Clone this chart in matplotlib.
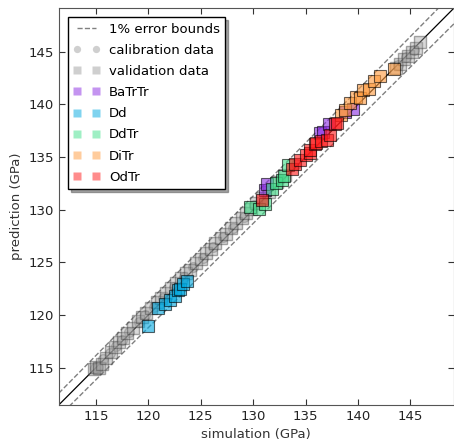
import numpy as np
import matplotlib
matplotlib.use("Agg")
import matplotlib.pyplot as plt


# -----------------------------
# Data (GPa)
# -----------------------------
calib_sim = [114.9, 115.2, 115.7, 116.3, 116.9, 117.5, 118.2, 119.1, 119.7,
             120.5, 121.4, 122.4, 123.4, 124.3, 125.2, 126.2, 127.1, 128.1,
             129.1, 130.1, 131.2, 132.6, 134.1, 143.8, 144.6, 145.3]
calib_pred = [115.0, 115.1, 115.8, 116.4, 117.1, 117.6, 118.4, 119.3, 120.0,
              120.8, 121.6, 122.7, 123.6, 124.6, 125.4, 126.5, 127.4, 128.3,
              129.3, 130.4, 131.5, 132.9, 134.3, 143.7, 144.5, 145.2]

valid_sim = [114.8, 115.0, 115.3, 115.6, 116.0, 116.4, 116.8, 117.2, 117.6,
             118.0, 118.5, 119.0, 119.4, 119.8, 120.3, 120.8, 121.2, 121.7,
             122.2, 122.6, 123.1, 123.6, 124.0, 124.5, 125.0, 125.5, 126.0,
             126.4, 126.9, 127.4, 127.9, 128.4, 128.9, 129.3, 129.8, 130.3,
             130.8, 131.5, 132.3, 133.0, 143.6, 144.0, 144.4, 144.8, 145.1,
             145.5, 145.9]
valid_pred = [114.9, 115.1, 115.0, 115.3, 115.9, 116.5, 117.0, 117.4, 117.8,
              118.3, 118.8, 119.4, 119.8, 120.2, 120.7, 121.2, 121.6, 122.1,
              122.6, 123.0, 123.5, 124.0, 124.3, 124.9, 125.3, 125.9, 126.3,
              126.8, 127.3, 127.7, 128.3, 128.7, 129.2, 129.7, 130.1, 130.6,
              131.1, 131.7, 132.6, 133.3, 143.5, 143.8, 144.3, 144.6, 145.0,
              145.4, 145.9]

batrtr_sim = [131.1, 131.3, 136.4, 136.7, 137.2, 138.8, 139.5]
batrtr_pred = [131.9, 132.4, 137.3, 137.4, 138.1, 139.3, 139.6]

dd_sim = [120.0, 120.9, 121.6, 122.1, 122.5, 122.8, 123.0, 123.3, 123.7]
dd_pred = [119.0, 120.7, 121.0, 121.4, 121.8, 122.4, 122.5, 122.9, 123.2]

ddtr_sim = [129.7, 130.6, 131.1, 131.8, 132.2, 132.7, 132.9, 133.3]
ddtr_pred = [130.3, 130.1, 130.5, 132.0, 132.5, 132.8, 133.2, 134.2]

ditr_sim = [138.4, 138.8, 139.2, 139.8, 140.2, 140.5, 141.0, 141.5, 142.1,
            143.4]
ditr_pred = [139.0, 139.5, 140.1, 140.7, 140.6, 141.4, 141.5, 142.2, 142.7,
             143.4]

odtr_sim = [130.8, 133.7, 134.0, 134.5, 135.0, 135.4, 135.4, 135.9, 136.0,
            136.5, 137.0, 137.3, 137.8, 138.0]
odtr_pred = [130.9, 133.9, 134.3, 134.7, 135.2, 135.4, 135.7, 136.2, 136.3,
             136.5, 136.6, 137.1, 138.1, 138.2]

groups = ["BaTrTr", "Dd", "DdTr", "DiTr", "OdTr"]
group_sim = [batrtr_sim, dd_sim, ddtr_sim, ditr_sim, odtr_sim]
group_pred = [batrtr_pred, dd_pred, ddtr_pred, ditr_pred, odtr_pred]
group_colors = ["#8a2be2", "#00a8e0", "#40e08a", "#ff9a3c", "#ff1a1a"]

lims = (111.45, 149.15)
xticks = [115, 120, 125, 130, 135, 140, 145]

# -----------------------------
# Plot
# -----------------------------
plt.rcParams["font.family"] = "DejaVu Sans"
plt.rcParams["font.size"] = 9.5

fig = plt.figure(figsize=(4.54, 4.44), dpi=100)
ax = fig.add_axes([0.1293, 0.0878, 0.8707, 0.8941])

line = np.array(lims)
ax.plot(line, line, color="black", lw=0.9, zorder=1)
ax.plot(line, line * 1.01, "--", color="gray", lw=1.0, zorder=1,
        label="1% error bounds")
ax.plot(line, line * 0.99, "--", color="gray", lw=1.0, zorder=1)

ax.plot(calib_sim, calib_pred, "o", ms=7, mfc="#a0a0a0", mec="#404040",
        alpha=0.35, label="calibration data", zorder=2)
ax.plot(valid_sim, valid_pred, "s", ms=8, mfc="#a0a0a0", mec="#303030",
        alpha=0.4, label="validation data", zorder=3)

for name, xs, ys, col in zip(groups, group_sim, group_pred, group_colors):
    ax.plot(xs, ys, "s", ms=8, mfc=col, mec="black", mew=0.8,
            alpha=0.6, label=name, zorder=4)

ax.set_xlim(lims)
ax.set_ylim(lims)
ax.set_xticks(xticks)
ax.set_yticks(xticks)
ax.tick_params(direction="in", top=True, right=True, length=4,
               colors="#333333", labelcolor="#222222")
for s in ax.spines.values():
    s.set_color("#555555")
ax.set_xlabel("simulation (GPa)", color="#333333")
ax.set_ylabel("prediction (GPa)", color="#333333")

leg = ax.legend(loc="upper left", numpoints=2, fancybox=False, shadow=True,
                handlelength=2.0, handletextpad=0.7, labelspacing=0.62,
                borderpad=0.4, markerscale=0.75, fontsize=9.5,
                borderaxespad=0.7)
leg.get_frame().set_edgecolor("black")
for h in leg.legend_handles[1:]:
    h.set_alpha(0.5)
    h.set_markeredgecolor("none")

fig.savefig("out.png", dpi=100)
